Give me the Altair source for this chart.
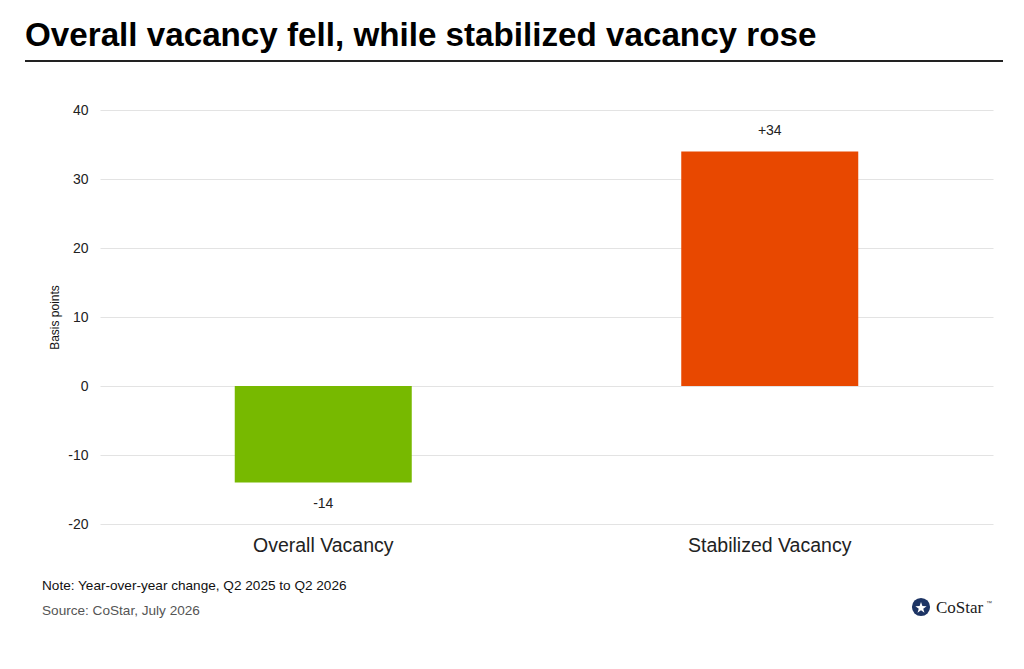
import altair as alt
import pandas as pd


categories = ["Overall Vacancy", "Stabilized Vacancy"]
changes = [-14, 34]
bar_colors = ["#77b900", "#e84800"]
y_ticks = [-20, -10, 0, 10, 20, 30, 40]

title_text = "Overall vacancy fell, while stabilized vacancy rose"
note_text = "Note: Year-over-year change, Q2 2025 to Q2 2026"
source_text = "Source: CoStar, July 2026"

df = pd.DataFrame({"category": categories, "change": changes, "color": bar_colors})
df["label"] = df["change"].map(lambda v: f"+{v}" if v > 0 else str(v))
df["pos"] = df["change"] > 0

FONT = "Liberation Sans"
PLOT_W = 893
PLOT_H = 414

x_enc = alt.X(
    "category:N",
    sort=categories,
    scale=alt.Scale(paddingInner=0, paddingOuter=0),
    axis=alt.Axis(
        title=None,
        labelAngle=0,
        labelFontSize=19.5,
        labelColor="#222222",
        labelPadding=12,
        domain=False,
        ticks=False,
        grid=False,
    ),
)
y_scale = alt.Scale(domain=[-20, 40], nice=False)

base = alt.Chart(df)

bars = base.mark_bar(size=177).encode(
    x=x_enc,
    y=alt.Y(
        "change:Q",
        scale=y_scale,
        axis=alt.Axis(
            title="Basis points",
            titleFontSize=12,
            titleFontWeight="normal",
            titleColor="#111111",
            titlePadding=6,
            values=y_ticks,
            labelExpr="'' + datum.value",
            labelFontSize=14,
            labelColor="#222222",
            labelPadding=12,
            domain=False,
            ticks=False,
            gridColor="#e3e3e3",
            gridWidth=1,
        ),
    ),
    color=alt.Color("color:N", scale=None),
)

label_up = base.transform_filter("datum.pos").mark_text(
    dy=-20, fontSize=14, font=FONT, color="#222222", baseline="middle"
).encode(x=x_enc, y=alt.Y("change:Q", scale=y_scale), text="label:N")

label_down = base.transform_filter("!datum.pos").mark_text(
    dy=21, fontSize=14, font=FONT, color="#222222", baseline="middle"
).encode(x=x_enc, y=alt.Y("change:Q", scale=y_scale), text="label:N")


def text_at(txt, x, y, size, color="#000000", weight="normal", font=FONT, align="left"):
    return alt.Chart(pd.DataFrame({"t": [txt]})).mark_text(
        align=align, baseline="alphabetic", fontSize=size, fontWeight=weight,
        font=font, color=color,
    ).encode(x=alt.value(x), y=alt.value(y), text="t:N")


title = text_at(title_text, -75, -64, 33.2, weight="bold")
rule = alt.Chart(pd.DataFrame({"a": [0]})).mark_rule(color="#222222", strokeWidth=2).encode(
    x=alt.value(-75), x2=alt.value(903), y=alt.value(-49)
)
note = text_at(note_text, -58, 66 + PLOT_H, 13.6, color="#111111")
source = text_at(source_text, -58, 91 + PLOT_H, 13.6, color="#555555")

logo_ring = alt.Chart(pd.DataFrame({"a": [0]})).mark_point(
    shape="circle", filled=True, size=330, color="#1d3464", opacity=1
).encode(x=alt.value(821), y=alt.value(497))
logo_star = alt.Chart(pd.DataFrame({"a": [0]})).mark_point(
    shape="M0,-1L0.235,-0.324L0.951,-0.309L0.38,0.124L0.588,0.809L0,0.4L-0.588,0.809L-0.38,0.124L-0.951,-0.309L-0.235,-0.324Z",
    filled=True, size=140, color="#ffffff", opacity=1,
).encode(x=alt.value(821), y=alt.value(498))
logo_text = text_at("CoStar", 836, 503, 17, color="#1a1a1a", font="Liberation Serif")
logo_tm = text_at("™", 886, 495, 6, color="#444444")

chart = alt.layer(
    bars, label_up, label_down, title, rule, note, source,
    logo_ring, logo_star, logo_text, logo_tm,
).properties(
    width=PLOT_W,
    height=PLOT_H,
    autosize=alt.AutoSizeParams(type="none"),
    padding={"left": 92, "top": 102, "right": 23, "bottom": 137},
    background="#ffffff",
).configure_view(
    stroke=None, clip=False
).configure_axis(
    labelFont=FONT, titleFont=FONT
).configure_text(font=FONT)

chart.save("out.html", embed_options={"renderer": "svg", "actions": False})
